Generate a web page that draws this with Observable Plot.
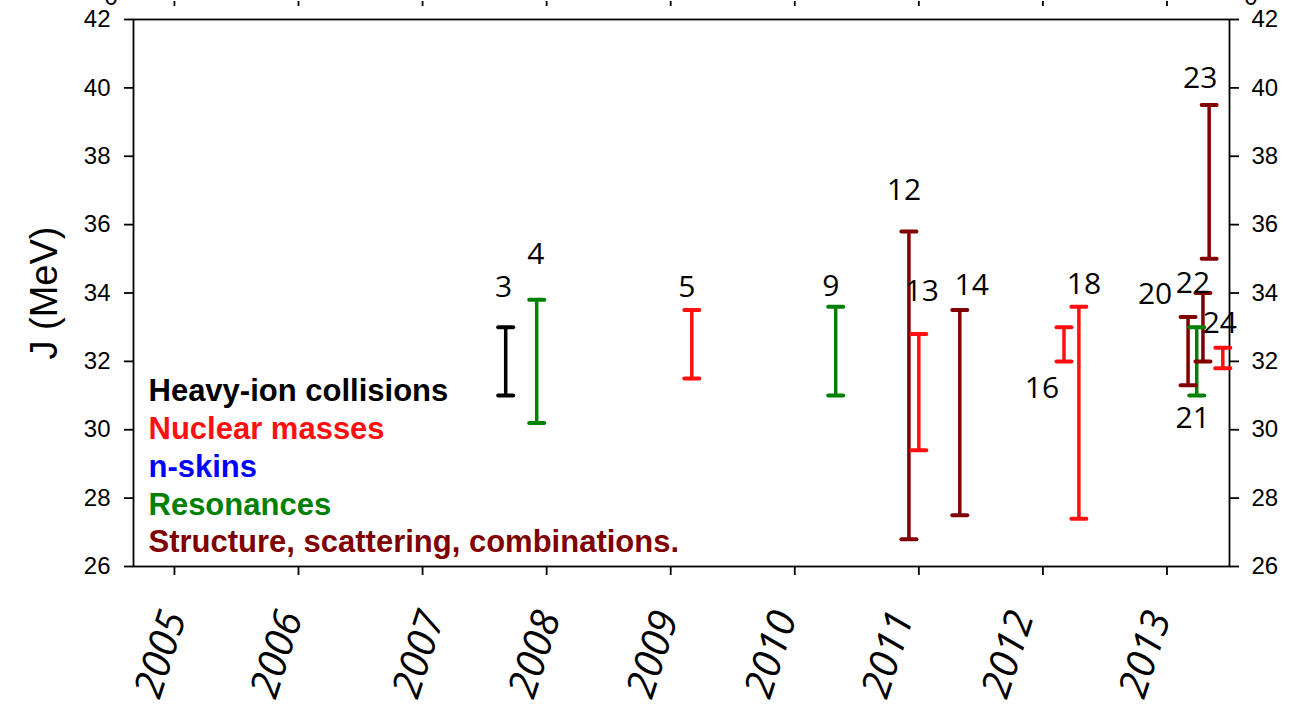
<!DOCTYPE html>
<html>
<head>
<meta charset="utf-8">
<script src="https://cdn.jsdelivr.net/npm/d3@7"></script>
<script src="https://cdn.jsdelivr.net/npm/@observablehq/plot@0.6"></script>
<style>
  body { margin: 0; background: #ffffff; }
  #chart svg { display: block; }
</style>
</head>
<body>
<div id="chart"></div>
<script>
// Symmetry energy J constraints, by publication date and method.
const categories = [
  "Heavy-ion collisions",
  "Nuclear masses",
  "n-skins",
  "Resonances",
  "Structure, scattering, combinations."
];
const palette = ["#000000", "#ff0f0f", "#0000ff", "#008000", "#800000"];

const refIds   = [3, 4, 5, 9, 12, 13, 14, 16, 18, 20, 21, 22, 23, 24];
const pubDates = [2007.67, 2007.92, 2009.17, 2010.33, 2010.92, 2011.00, 2011.33,
                  2012.17, 2012.29, 2013.17, 2013.24, 2013.29, 2013.34, 2013.45];
const jLow     = [31.0, 30.2, 31.5, 31.0, 26.8, 29.4, 27.5, 32.0, 27.4, 31.3, 31.0, 32.0, 35.0, 31.8];
const jHigh    = [33.0, 33.8, 33.5, 33.6, 35.8, 32.8, 33.5, 33.0, 33.6, 33.3, 33.0, 34.0, 39.5, 32.4];
const methods  = [
  "Heavy-ion collisions", "Resonances", "Nuclear masses", "Resonances",
  "Structure, scattering, combinations.", "Nuclear masses",
  "Structure, scattering, combinations.", "Nuclear masses", "Nuclear masses",
  "Structure, scattering, combinations.", "Resonances",
  "Structure, scattering, combinations.", "Structure, scattering, combinations.",
  "Nuclear masses"
];

const yearTicks = [2005, 2006, 2007, 2008, 2009, 2010, 2011, 2012, 2013];
const jTicks = [26, 28, 30, 32, 34, 36, 38, 40, 42];

const rows = refIds.map((id, i) => ({
  id, date: pubDates[i], low: jLow[i], high: jHigh[i], method: methods[i]
}));

// Where each reference number sits relative to its bar: [end, dx, dy]
const labelPlacement = {
  3: ["high", -2, -40], 4: ["high", -1, -45], 5: ["high", -5, -23],
  9: ["high", -5, -20], 12: ["high", -5, -41], 13: ["high", 3, -43],
  14: ["high", 12, -25], 16: ["low", -22, 27], 18: ["high", 5, -22],
  20: ["high", -33, -23], 21: ["low", -4, 23], 22: ["high", -10, -10],
  23: ["high", -9, -27], 24: ["high", -3, -24]
};

// Horizontal nudge of each rotated year label (hand-placed look)
const yearLabelNudge = { 2005: -2, 2006: -10, 2007: 8, 2008: 0, 2009: -6, 2010: -12, 2011: -19, 2012: -23, 2013: -10 };

// Horizontal cap drawn as a dot symbol
const capSymbol = {
  draw(context, size) {
    const r = Math.sqrt(size / Math.PI);
    context.moveTo(-r, 0);
    context.lineTo(r, 0);
  }
};

const labelMarks = rows.map(d => {
  const [end, dx, dy] = labelPlacement[d.id];
  return Plot.text([d], {
    x: "date", y: end, text: d => String(d.id),
    dx, dy, fontSize: 30, fontFamily: "Open Sans", fill: "#000"
  });
});

const yearLabelMarks = yearTicks.map(yr => Plot.text([yr], {
  x: d => d, frameAnchor: "bottom", text: d => String(d),
  rotate: -72, textAnchor: "end", lineAnchor: "middle",
  dx: 2 + yearLabelNudge[yr], dy: 46,
  fontSize: 40, fontStyle: "italic", fontFamily: "Open Sans", fill: "#000"
}));

const legendMarks = categories.map((c, i) => Plot.text([c], {
  frameAnchor: "bottom-left", text: d => d,
  dx: 15, dy: -24 - (categories.length - 1 - i) * 37.75,
  textAnchor: "start", lineAnchor: "middle",
  fontSize: 31, fontWeight: "bold", fontFamily: "Liberation Sans",
  fill: palette[i]
}));

const chart = Plot.plot({
  width: 1295,
  height: 707,
  marginTop: 19,
  marginBottom: 141,
  marginLeft: 133,
  marginRight: 66,
  style: { fontFamily: "Liberation Sans", fontSize: "24px", color: "#000", background: "#fff", overflow: "visible" },
  x: { domain: [2004.67, 2013.504] },
  y: { domain: [26, 42] },
  color: { domain: categories, range: palette },
  marks: [
    Plot.frame({ stroke: "#000", strokeWidth: 1.8 }),
    Plot.axisY({ anchor: "left", ticks: jTicks, tickSize: 9, tickPadding: 14, strokeWidth: 1.8, fontSize: 24, label: null }),
    Plot.axisY({ anchor: "right", ticks: jTicks, tickSize: 9, tickPadding: 13, strokeWidth: 1.8, fontSize: 24, label: null }),
    Plot.axisX({ anchor: "bottom", ticks: yearTicks, tickSize: 9, tickFormat: () => "", strokeWidth: 1.8, label: null }),
    // tick stubs and zero labels of the panel above
    Plot.axisX({ anchor: "top", ticks: yearTicks, tickSize: 5, tickFormat: () => "", strokeWidth: 1.8, label: null, dy: -14 }),
    Plot.text(["0"], { frameAnchor: "top-left", text: d => d, dx: -29, dy: -15, lineAnchor: "bottom", fontSize: 24 }),
    Plot.text(["0"], { frameAnchor: "top-right", text: d => d, dx: 28, dy: -15, lineAnchor: "bottom", fontSize: 24 }),
    // rotated year labels
    ...yearLabelMarks,
    // y-axis title
    Plot.text(["J (MeV)"], {
      frameAnchor: "left", text: d => d, rotate: -90, dx: -89,
      textAnchor: "middle", lineAnchor: "middle",
      fontSize: 38, fontFamily: "Liberation Sans", fill: "#000"
    }),
    // error bars
    Plot.ruleX(rows, { x: "date", y1: "low", y2: "high", stroke: "method", strokeWidth: 3.5 }),
    Plot.dot(rows, { x: "date", y: "low", symbol: capSymbol, r: 7.5, fill: "none", stroke: "method", strokeWidth: 4, strokeLinecap: "round" }),
    Plot.dot(rows, { x: "date", y: "high", symbol: capSymbol, r: 7.5, fill: "none", stroke: "method", strokeWidth: 4, strokeLinecap: "round" }),
    ...labelMarks,
    ...legendMarks
  ]
});

document.getElementById("chart").appendChild(chart);
</script>
</body>
</html>
